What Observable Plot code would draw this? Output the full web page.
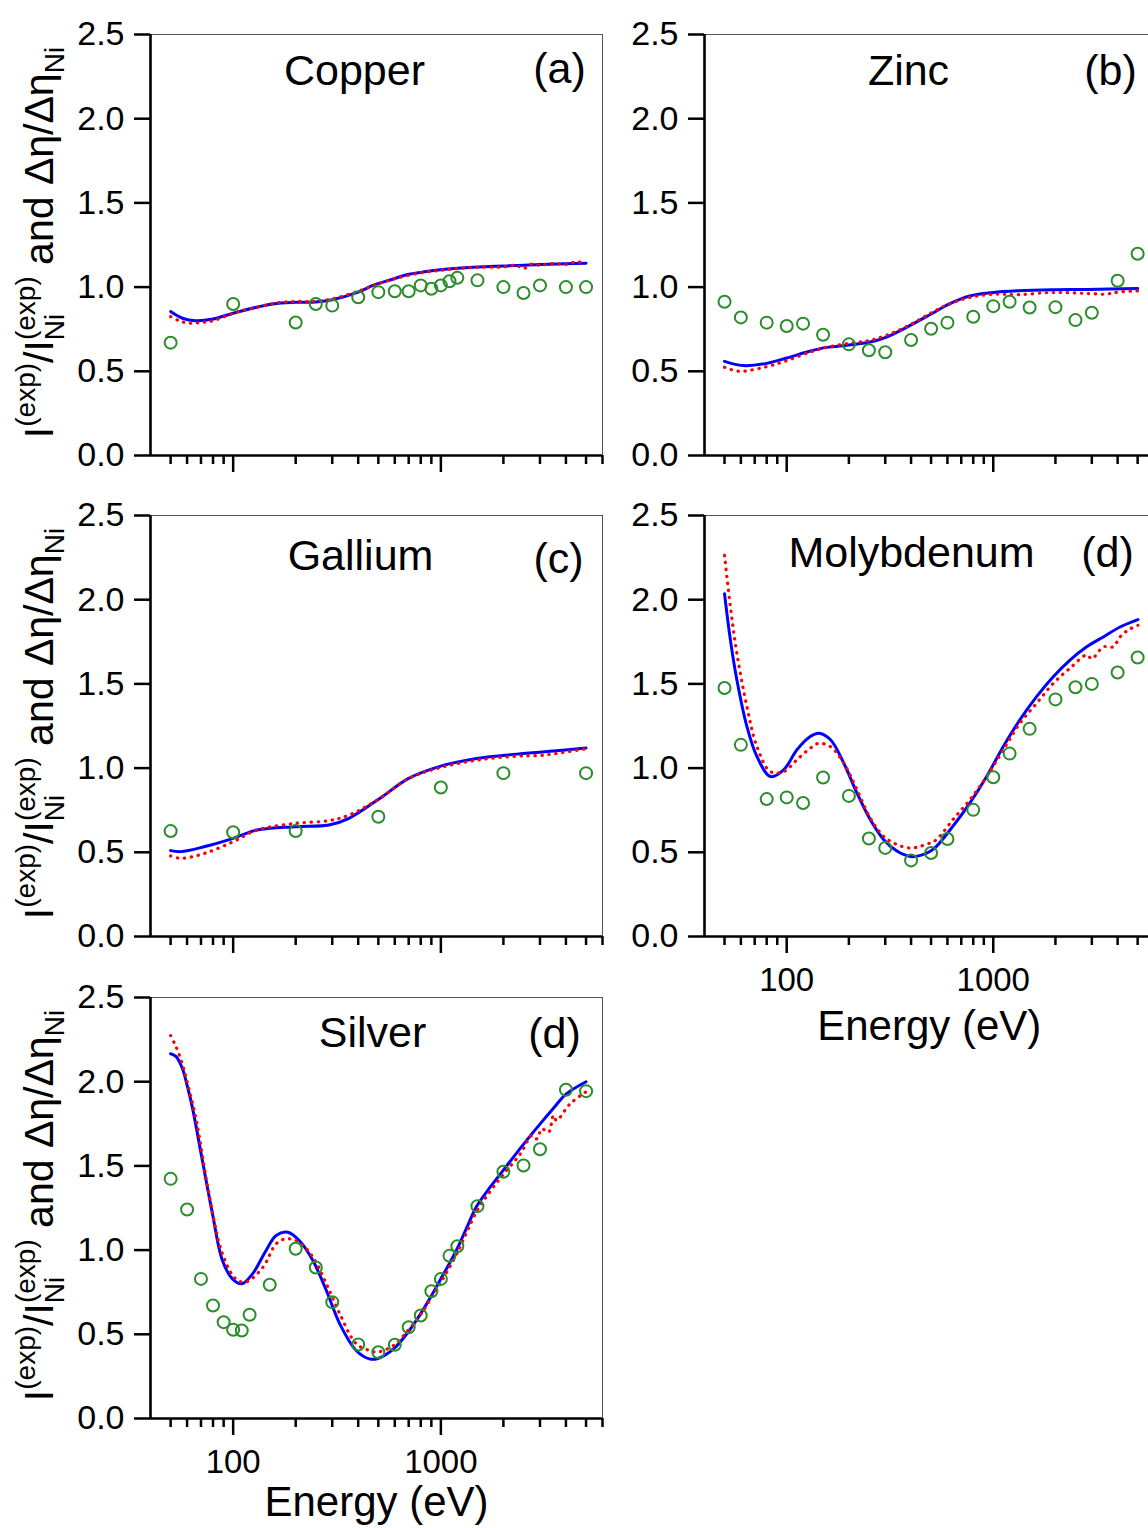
<!DOCTYPE html>
<html>
<head>
<meta charset="utf-8">
<script src="https://cdn.jsdelivr.net/npm/d3@7"></script>
<script src="https://cdn.jsdelivr.net/npm/@observablehq/plot@0.6"></script>
<style>
  html, body { margin: 0; padding: 0; background: #fff; }
  #wrap { position: relative; width: 1148px; height: 1528px; overflow: hidden; background: #fff; }
  .panel { position: absolute; }
  .panel svg { max-width: none !important; background: transparent !important; }
</style>
</head>
<body>
<div id="wrap"></div>
<script>
// ---------- axes ----------
const xDomain = [40, 6000];
const yDomain = [0, 2.5];
const xTicksMinor = [50, 60, 70, 80, 90, 200, 300, 400, 500, 600, 700, 800, 900, 2000, 3000, 4000, 5000, 6000];
const xTicksMajor = [100, 1000];
const yTicks = [0, 0.5, 1.0, 1.5, 2.0, 2.5];
const xLabel = "Energy (eV)";

// ---------- Copper (a) ----------
const copperExp = [[50,0.67],[100,0.90],[200,0.79],[250,0.90],[300,0.89],[400,0.94],[500,0.97],[600,0.975],[700,0.975],[800,1.01],[900,0.99],[1000,1.01],[1100,1.035],[1200,1.055],[1500,1.04],[2000,1.00],[2500,0.965],[3000,1.01],[4000,1.00],[5000,1.00]];
const copperBlue = [[50,0.855],[57,0.815],[66,0.80],[80,0.81],[100,0.845],[155,0.90],[200,0.91],[250,0.912],[300,0.925],[400,0.97],[471,1.01],[580,1.045],[683,1.073],[850,1.092],[995,1.103],[1200,1.112],[1432,1.118],[2077,1.126],[3008,1.134],[4000,1.138],[5000,1.142]];
const copperRed = [[50,0.825],[55,0.80],[61,0.786],[70,0.79],[80,0.80],[100,0.845],[130,0.88],[160,0.905],[200,0.915],[250,0.915],[300,0.93],[400,0.975],[500,1.02],[600,1.05],[800,1.085],[1000,1.10],[1200,1.11],[1500,1.118],[2000,1.12],[2300,1.13],[2500,1.11],[2700,1.135],[3000,1.13],[3500,1.14],[4000,1.135],[4500,1.15],[5000,1.14]];

// ---------- Zinc (b) ----------
const zincExp = [[50,0.913],[60,0.820],[80,0.789],[100,0.769],[120,0.783],[150,0.717],[200,0.660],[250,0.625],[300,0.613],[400,0.686],[500,0.753],[600,0.789],[800,0.824],[1000,0.887],[1200,0.913],[1500,0.879],[2000,0.881],[2500,0.804],[3000,0.848],[4000,1.038],[5000,1.198]];
const zincBlue = [[50,0.559],[61.5,0.534],[80,0.547],[100,0.579],[129,0.619],[156,0.642],[200,0.656],[250,0.672],[300,0.70],[380,0.761],[500,0.840],[610,0.899],[770,0.947],[1000,0.968],[1320,0.978],[1950,0.984],[2860,0.986],[5000,0.992]];
const zincRed = [[50,0.524],[59,0.500],[80,0.528],[100,0.563],[129,0.613],[156,0.642],[200,0.666],[250,0.682],[300,0.711],[380,0.765],[500,0.846],[610,0.899],[770,0.939],[1000,0.958],[1320,0.955],[1950,0.968],[2860,0.962],[3500,0.958],[4000,0.97],[5000,0.978]];

// ---------- Gallium (c) ----------
const galliumExp = [[50,0.626],[100,0.619],[200,0.626],[500,0.711],[1000,0.885],[2000,0.970],[5000,0.970]];
const galliumBlue = [[50,0.510],[56,0.504],[73,0.534],[100,0.583],[130,0.632],[200,0.652],[289,0.662],[361,0.702],[508,0.820],[700,0.939],[1000,1.012],[1489,1.057],[2316,1.083],[3600,1.103],[5000,1.12]];
const galliumRed = [[50,0.478],[56,0.464],[73,0.494],[100,0.563],[130,0.632],[200,0.672],[289,0.688],[361,0.721],[508,0.82],[700,0.939],[1000,1.004],[1489,1.047],[2316,1.071],[3000,1.075],[3600,1.087],[5000,1.115]];

// ---------- Molybdenum (d) ----------
const molyExp = [[50,1.476],[60,1.138],[80,0.816],[100,0.826],[120,0.793],[150,0.944],[200,0.835],[250,0.582],[300,0.526],[400,0.452],[500,0.496],[600,0.579],[800,0.752],[1000,0.946],[1200,1.086],[1500,1.233],[2000,1.408],[2500,1.48],[3000,1.50],[4000,1.568],[5000,1.657]];
const molyBlue = [[50,2.036],[53.4,1.76],[57.4,1.523],[64.2,1.246],[71.8,1.068],[83.4,0.95],[96.7,0.99],[112,1.108],[130,1.187],[143,1.207],[163,1.168],[189,1.029],[219,0.851],[254,0.693],[295,0.575],[343,0.506],[398,0.475],[440,0.48],[496,0.506],[531,0.535],[637,0.654],[770,0.792],[929,0.95],[1117,1.127],[1345,1.286],[1621,1.424],[1952,1.542],[2352,1.641],[2832,1.72],[3411,1.779],[4108,1.838],[5015,1.882]];
const molyRed = [[50,2.263],[53.4,1.956],[57.4,1.68],[64.2,1.364],[71.8,1.127],[83.4,0.979],[96.7,0.979],[112,1.049],[130,1.118],[143,1.147],[163,1.127],[189,1.029],[219,0.871],[254,0.703],[295,0.594],[343,0.545],[398,0.525],[440,0.535],[496,0.556],[531,0.575],[637,0.693],[770,0.812],[929,0.95],[1117,1.108],[1345,1.266],[1621,1.385],[1952,1.503],[2352,1.593],[2832,1.672],[3000,1.65],[3411,1.72],[3800,1.72],[4108,1.779],[4500,1.82],[5015,1.848]];

// ---------- Silver (d) ----------
const silverExp = [[50,1.423],[60,1.241],[70,0.829],[80,0.671],[90,0.572],[100,0.527],[110,0.523],[120,0.616],[150,0.794],[200,1.008],[250,0.897],[300,0.691],[400,0.439],[500,0.393],[600,0.438],[700,0.542],[800,0.612],[900,0.756],[1000,0.829],[1100,0.966],[1200,1.023],[1500,1.261],[2000,1.465],[2500,1.502],[3000,1.599],[4000,1.952],[5000,1.944]];
const silverBlue = [[50,2.166],[53,2.15],[56.9,2.08],[60,1.98],[63.6,1.849],[71.1,1.532],[79.5,1.216],[88.8,0.938],[99.2,0.829],[110,0.80],[124,0.859],[144,0.998],[161,1.087],[183,1.106],[208,1.057],[242,0.938],[281,0.760],[326,0.562],[391,0.404],[453,0.354],[497,0.356],[594,0.415],[697,0.515],[792,0.615],[892,0.72],[990,0.82],[1093,0.915],[1195,1.005],[1340,1.14],[1487,1.26],[1730,1.375],[1986,1.47],[2486,1.625],[2986,1.745],[3500,1.845],[3990,1.925],[5000,2.0]];
const silverRed = [[50,2.274],[53,2.21],[56.9,2.106],[60,2.00],[66,1.789],[76.5,1.334],[88.8,0.978],[103,0.829],[115,0.81],[139,0.898],[161,1.037],[180,1.067],[208,1.047],[242,0.958],[281,0.80],[326,0.622],[391,0.444],[453,0.404],[497,0.395],[594,0.435],[697,0.525],[792,0.61],[892,0.71],[990,0.80],[1195,0.98],[1487,1.23],[1730,1.35],[1999,1.45],[2407,1.57],[2744,1.68],[2900,1.66],[3063,1.72],[3300,1.70],[3487,1.80],[3600,1.77],[4200,1.87],[5000,1.94]];

// ---------- styles ----------
const FONT = "'Liberation Sans', Arial, Helvetica, sans-serif";
const BLUE = "#0000ff", RED = "#ff0000", GREEN = "#2a8c2a";

const panels = [
  {title: "Copper", tag: "(a)", exp: copperExp, blue: copperBlue, red: copperRed, col: 0, top: 0, bottom: false, titleDx: 204, tagDx: 409, titleDy: 37, tagDy: 35},
  {title: "Zinc", tag: "(b)", exp: zincExp, blue: zincBlue, red: zincRed, col: 1, top: 0, bottom: false, titleDx: 204, tagDx: 406, titleDy: 37, tagDy: 37},
  {title: "Gallium", tag: "(c)", exp: galliumExp, blue: galliumBlue, red: galliumRed, col: 0, top: 481, bottom: false, titleDx: 210, tagDx: 408, titleDy: 41, tagDy: 44},
  {title: "Molybdenum", tag: "(d)", exp: molyExp, blue: molyBlue, red: molyRed, col: 1, top: 481, bottom: true, labelDy: 90, titleDx: 207, tagDx: 403, titleDy: 38, tagDy: 38},
  {title: "Silver", tag: "(d)", exp: silverExp, blue: silverBlue, red: silverRed, col: 0, top: 963, bottom: true, labelDy: 84, titleDx: 222, tagDx: 404, titleDy: 36, tagDy: 37}
];

const wrap = document.getElementById("wrap");

for (const p of panels) {
  const isLeft = p.col === 0;
  const width = isLeft ? 620 : 560;
  const marginLeft = isLeft ? 150 : 94;
  const marginRight = isLeft ? 18 : 16.5;
  const marginTop = 34;
  const marginBottom = p.bottom ? 110 : 26;
  const height = marginTop + 421 + marginBottom;
  const X = d => d[0], Y = d => d[1];

  const marks = [
    Plot.frame({stroke: "#555", strokeWidth: 1}),
    Plot.ruleY([yDomain[0]], {stroke: "#000", strokeWidth: 2.6}),
    Plot.ruleX([xDomain[0]], {stroke: "#000", strokeWidth: 2.6}),
    Plot.axisY({ticks: yTicks, tickSize: 16, tickPadding: 10, tickFormat: d3.format(".1f"), fontSize: 34, strokeWidth: 2.5, label: null}),
    Plot.axisX({ticks: xTicksMinor, tickSize: 9, tickFormat: () => "", strokeWidth: 2.5, label: null}),
    Plot.axisX({ticks: xTicksMajor, tickSize: 17, tickPadding: 14, tickFormat: p.bottom ? (d => String(d)) : (() => ""), fontSize: 33, strokeWidth: 2.5, label: null}),
    Plot.line(p.blue, {x: X, y: Y, stroke: BLUE, strokeWidth: 3, curve: "catmull-rom"}),
    Plot.line(p.red, {x: X, y: Y, stroke: RED, strokeWidth: 3.2, strokeDasharray: "0.4,6.6", strokeLinecap: "round", curve: "catmull-rom"}),
    Plot.dot(p.exp, {x: X, y: Y, r: 6, stroke: GREEN, strokeWidth: 2, fill: "none"}),
    Plot.text([p.title], {text: d => d, frameAnchor: "top-left", dx: p.titleDx, dy: p.titleDy, fontSize: 43, textAnchor: "middle", lineAnchor: "middle", fill: "#000"}),
    Plot.text([p.tag], {text: d => d, frameAnchor: "top-left", dx: p.tagDx, dy: p.tagDy, fontSize: 43, textAnchor: "middle", lineAnchor: "middle", fill: "#000"})
  ];
  if (p.bottom) {
    marks.push(Plot.text([xLabel], {text: d => d, frameAnchor: "bottom", dy: p.labelDy, fontSize: 42, textAnchor: "middle", lineAnchor: "middle", fill: "#000"}));
  }

  const svg = Plot.plot({
    width, height, marginLeft, marginRight, marginTop, marginBottom,
    style: {fontFamily: FONT, color: "#000", background: "transparent", overflow: "visible"},
    x: {type: "log", domain: xDomain, axis: null},
    y: {domain: yDomain, axis: null},
    marks
  });

  if (isLeft) {
    const cy = marginTop + 421 / 2 - 2;
    const t = d3.select(svg).append("text")
      .attr("transform", `translate(53,${cy}) rotate(-90)`)
      .attr("text-anchor", "middle")
      .attr("font-family", FONT)
      .attr("font-size", 41)
      .attr("fill", "#000");
    t.append("tspan").text("I");
    t.append("tspan").attr("font-size", 28).attr("dy", -18).text("(exp)");
    t.append("tspan").attr("dy", 18).text("/I");
    t.append("tspan").attr("font-size", 28).attr("dy", 11).text("Ni");
    t.append("tspan").attr("font-size", 28).attr("dx", -26.4).attr("dy", -29).text("(exp)");
    t.append("tspan").attr("dy", 18).text(" and \u0394\u03b7/\u0394\u03b7");
    t.append("tspan").attr("font-size", 28).attr("dy", 11).text("Ni");
  }

  const div = document.createElement("div");
  div.className = "panel";
  div.style.left = (isLeft ? 0 : 610) + "px";
  div.style.top = p.top + "px";
  div.style.width = width + "px";
  div.style.height = height + "px";
  div.appendChild(svg);
  wrap.appendChild(div);
}
</script>
</body>
</html>
